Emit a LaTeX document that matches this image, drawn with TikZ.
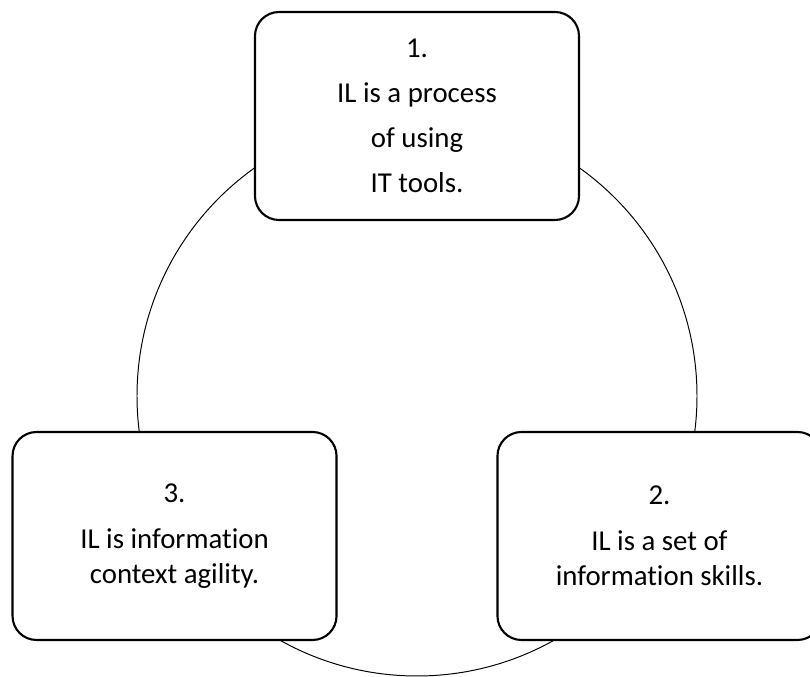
\documentclass[tikz,border=0pt]{standalone}
\usepackage{fontspec}
\setmainfont{Carlito}[RawFeature=-liga]
\tikzset{
	ilbox/.style={draw, line width=1.5pt, rounded corners=0.6cm, fill=white,
		minimum width=8.1cm, minimum height=5.2cm, inner sep=0pt,
		align=center, font=\fontsize{20.5}{25}\selectfont}
}

\begin{document}
\begin{tikzpicture}

			\useasboundingbox (0,0) rectangle (20.25,16.925);
			\clip (0,0) rectangle (20.25,16.925);

			% Cycle circle
			\coordinate (c) at (10.425,7.025);
			\draw[line width=0.7pt] (c) circle (7);

			% Box 1 (top)
			\node[ilbox] (one) at (10.425,14.025)
				{1.\\[7pt] IL is a process\\[7pt] of using\\[7pt] IT tools.};

			% Box 2 (right)
			\node[ilbox] (two) at (16.487,3.525)
				{2.\\[8pt] IL is a set of\\ information skills.};

			% Box 3 (left)
			\node[ilbox] (three) at (4.363,3.525)
				{3.\\[8pt] IL is information\\ context agility.};

		\end{tikzpicture}
\end{document}
